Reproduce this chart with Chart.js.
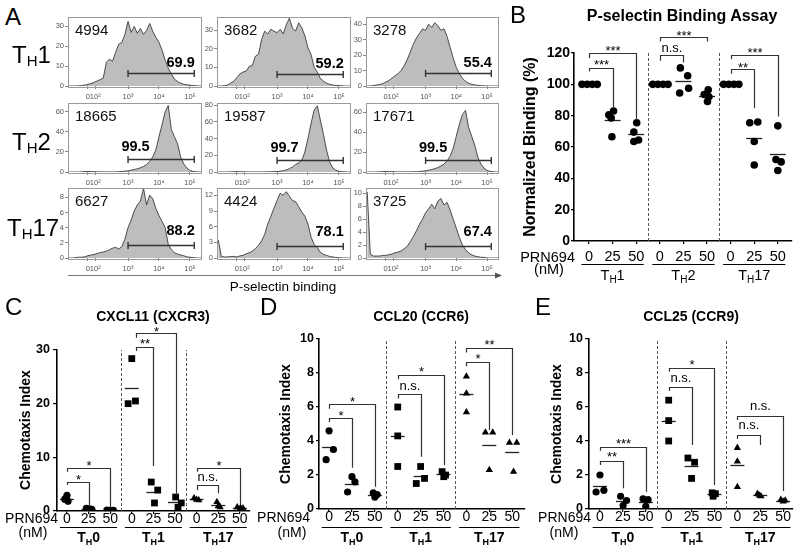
<!DOCTYPE html>
<html><head><meta charset="utf-8">
<script src="https://cdn.jsdelivr.net/npm/chart.js@4.4.1/dist/chart.umd.min.js"></script>
<style>
html,body{margin:0;padding:0;background:#fff;}
body{width:800px;height:556px;position:relative;overflow:hidden;font-family:'Liberation Sans',Arial,Helvetica,sans-serif;color:#000;}
canvas{position:absolute;}
.t{position:absolute;white-space:nowrap;}
</style></head><body>
<svg style="position:absolute;left:0;top:0" width="800" height="556"><line x1="68" y1="275.5" x2="496" y2="275.5" stroke="#777" stroke-width="1"/><polygon points="502,275.5 495,272.5 495,278.5" fill="#555"/></svg>
<script>
// ================= DATA =================
// Panel A histograms (x in log-display units, y = counts)
const histBins = [1.1,1.2,1.3,1.4,1.5,1.6,1.7,1.8,1.9,2.0, 2.1,2.2,2.3,2.4,2.5,2.6,2.7,2.8,2.9,3.0, 3.1,3.2,3.3,3.4,3.5,3.6,3.7,3.8,3.9,4.0, 4.1,4.2,4.3,4.4,4.5,4.6,4.7,4.8,4.9,5.0, 5.1,5.2,5.3,5.4];
const histTh1_a = [0,0,0,0.1,0.2,0.5,0.8,1.2,1.8,2.5, 3.2,4,12,13.5,12.5,17,21,22,26,32.5, 27,30,26.5,29,26,28,31.5,27.5,24.5,22, 18,13,9,6,3.5,2.2,1.4,0.9,0.6,0.4, 0.2,0.1,0,0];
const histTh1_b = [0,0,0.2,0.5,1.5,2.5,4.5,6.5,7.5,8, 10.5,11,16,17,25,29.5,28,30.5,29.5,28.7, 30.5,28,33,36.5,31,29.6,34,31.4,27,20.5, 17,10,7.5,4,2.6,1.5,0.9,0.5,0.3,0.2, 0.1,0,0,0];
const histTh1_c = [0,0,0.3,0.6,1,1.5,2.5,3.5,5,6.5, 8,10,13,17,22,27,31,34,37,36, 40,38,41,39,36,37,32,25,18,12, 8,5,3,1.8,1.1,0.7,0.4,0.2,0.1,0, 0,0,0,0];
const histTh2_a = [0,0,0,0,0.2,0.4,0.6,0.4,0.3,0.2, 0.1,0.1,0.1,0.1,0.1,0.1,0.3,0.5,0.8,1.2, 1.8,2.5,3.2,4.2,5.5,7.5,10.5,15,22,35, 47,60,66,42,35,28,15,8,4,1.5, 0.6,0.2,0,0];
const histTh2_b = [0,0,0,0,0.2,0.3,0.5,0.3,0.2,0.1, 0.1,0.1,0.1,0.1,0.1,0.1,0.2,0.3,0.4,0.5, 1,1.5,2.5,4,6,9,11,14,24,40, 58,74,79,62,45,26,12,5,2,0.8, 0.3,0.1,0,0];
const histTh2_c = [0,0,0,0,0.2,0.4,0.5,0.4,0.3,0.2, 0.1,0.1,0.1,0.1,0.1,0.2,0.3,0.5,0.8,1.2, 1.8,2.5,3.3,4.5,6,8,11,16,24,36, 48,58,62,45,36,27,15,8,4,1.6, 0.6,0.2,0,0];
const histTh17_a = [0,0,0.05,0.1,0.1,0.15,0.3,0.4,0.45,0.6, 0.7,0.8,0.9,1.1,1.3,1.4,1.2,1.5,2.5,4, 5,6.2,7,7.5,9.2,7,8.3,7.8,6.5,5.6, 4.8,4,1.8,1.1,0.7,0.5,0.4,0.3,0.15,0.1, 0.05,0,0,0];
const histTh17_b = [3.5,0.3,0.2,0.2,0.3,0.3,0.2,0.4,0.5,0.8, 1.0,1.3,1.8,2.4,3.3,4.5,6.5,8,9.5,11, 12.4,12,12.7,11.8,11,10.8,9.8,8.8,8,6.5, 4,2.6,2,1.1,0.7,0.5,0.3,0.2,0.1,0.05, 0,0,0,0];
const histTh17_c = [10.2,0.6,0.3,0.3,0.3,0.4,0.4,0.5,0.6,0.8, 0.9,1.1,1.4,1.8,2.5,3.3,4.2,5.2,6,7, 7.6,8.3,7.6,8.8,9.2,8.2,8.6,7.4,6,4.6, 3.2,2,1.3,0.8,0.5,0.3,0.2,0.1,0.1,0, 0,0,0,0];
const eventsTh1 = ['4994','3682','3278'];
const eventsTh2 = ['18665','19587','17671'];
const eventsTh17 = ['6627','4424','3725'];
const gatePctTh1 = ['69.9','59.2','55.4'];
const gatePctTh2 = ['99.5','99.7','99.5'];
const gatePctTh17 = ['88.2','78.1','67.4'];
const gateLevelTh1 = [6.4, 6.7, 8.2];
const gateLevelTh2 = [12.6, 14, 12];
const gateLevelTh17 = [1.7, 2.3, 1.9];
const gateRange = [3.0, 5.14];
const histTickValues = [1.70, 1.94, 3, 4, 5];
const histTickLabels = ['0', '10²', '10³', '10⁴', '10⁵'];

// Shared dose axis
const doseTickValues = [0,1,2,3,4,5,6,7,8];
const doseLabels = ['0','25','50'];

// Panel B: normalized binding (%), [dose0, dose25, dose50]
const bTh1 = [[100,100,100,100],[83,80.5,78.5,66.5],[75.5,69.5,64.5,63.5]];
const bTh2 = [[100,100,100,100],[110.5,105.5,94.5,97.5],[96.5,93.5,92,89]];
const bTh17 = [[100,100,100,100],[75.5,76,63.5,48.5],[73.5,52,50.5,45]];
const bSubsets = ['1','2','17'];
// [from, to, top, leftEnd, rightEnd, label, labelY]
const bBrackets = [[0,1,110.7,108.2,84.8,'***',114.6],[0,2,119.9,116.7,77.3,'***',123.5],[3,4,118.8,115,114,'n.s.',123],[3,5,130,127.4,127.4,'***',133.3],[6,7,109.7,106.7,84.8,'**',113],[6,8,118.8,116,79.4,'***',122]];

// Panel C: CXCL11 chemotaxis index
const cTh0 = [[2.9,2.2,1.8],[0.5,0.4,0.3],[0.15,0.1,0.1]];
const cTh1 = [[28.4,20.0,20.5],[5.4,3.9,1.5],[2.6,1.5,0.7]];
const cTh17 = [[2.4,2.0,2.1],[1.7,0.7,0.9],[0.7,0.6,0.5]];
const cBrackets = [[0,1,5.45,4.85,1.1,'*',6.4],[0,2,7.95,7.3,0.7,'*',9.0],[3.2,4,30.6,29.8,8.4,'**',31.7],[3.2,5.05,33.1,32.3,3.0,'*',34.0],[6,7,4.85,3.9,3.3,'n.s.',6.2],[6,8,7.95,7.3,1.3,'*',9.1]];

// Panel D: CCL20
const dTh0 = [[4.6,3.5,2.9],[1.9,1.6,1.0],[0.95,0.85,0.7]];
const dTh1 = [[6.0,4.3,2.5],[2.5,1.8,1.5],[2.2,2.0,1.9]];
const dTh17 = [[7.8,6.8,5.7],[4.5,4.5,2.3],[3.9,3.9,2.2]];
const dBrackets = [[0,1,5.37,5.1,2.43,'*',5.7],[0,2,6.16,5.9,1.31,'*',6.5],[3,4,6.75,6.5,3.08,'n.s.',7.2],[3,5,7.9,7.63,2.59,'*',8.28],[6,7,8.67,8.4,4.65,'*',9.06],[6,8,9.45,9.2,4.35,'**',9.84]];

// Panel E: CCL25
const eTh0 = [[2.0,1.0,1.1],[0.75,0.5,0.2],[0.6,0.55,0.15]];
const eTh1 = [[6.4,5.2,4.0],[3.0,2.75,1.8],[0.95,0.9,0.75]];
const eTh17 = [[3.6,2.8,1.3],[0.9,0.75,0.8],[0.55,0.5,0.45]];
const eBrackets = [[0,1,2.82,2.59,1.22,'**',3.24],[0,2,3.67,3.43,1.02,'***',4.02],[3,4,7.2,6.94,3.76,'n.s.',7.69],[3,5,8.31,8.08,1.41,'*',8.67],[6,7,4.35,4.12,3.76,'n.s.',4.9],[6,8,5.49,5.24,1.06,'n.s.',6.02]];
const cdeSubsets = ['0','1','17'];

// ================= LAYOUT =================
const FONT = "'Liberation Sans', Arial, Helvetica, sans-serif";
const jitB = [
  [[-0.3,-0.08,0.14,0.35],[0.04,-0.16,-0.06,-0.03],[0.02,-0.1,0.1,-0.1]],
  [[-0.3,-0.08,0.14,0.35],[-0.13,0.18,-0.16,0.22],[0.05,-0.12,0.08,0.02]],
  [[-0.3,-0.08,0.14,0.35],[-0.19,0.15,0,0],[0,-0.08,0.14,0]]];
const jitC = [
  [[0,-0.1,0.05],[-0.1,0.05,0.15],[-0.15,0,0.15]],
  [[0,-0.17,0.17],[-0.1,0.2,0.05],[0.03,0.29,0.14]],
  [[-0.12,0.1,0],[-0.06,0.09,0],[-0.12,0.03,0.15]]];
const jitD = [
  [[0,0.19,-0.13],[0,0.13,-0.19],[-0.07,0.1,0]],
  [[0,0,0],[0,0.17,-0.19],[-0.06,0.09,0.01]],
  [[0,0,0],[-0.17,0.15,0],[-0.12,0.2,0.06]]];
const jitE = [
  [[0,-0.17,0.17],[-0.1,0.16,0.01],[-0.12,0.1,0]],
  [[0,0,0],[-0.16,0.13,0],[-0.1,0.04,-0.06]],
  [[0,0,0],[-0.12,0.03,-0.04],[-0.1,0.09,0]]];

function makeCanvas(left, top, w, h) {
  const c = document.createElement('canvas');
  c.width = w; c.height = h;
  c.style.left = left + 'px'; c.style.top = top + 'px';
  c.style.width = w + 'px'; c.style.height = h + 'px';
  document.body.appendChild(c);
  return c;
}
function addText(html, x, baseline, size, opt) {
  opt = opt || {};
  const d = document.createElement('div');
  d.className = 't'; d.innerHTML = html;
  d.style.fontSize = size + 'px'; d.style.lineHeight = size + 'px';
  if (opt.bold) d.style.fontWeight = 'bold';
  if (opt.rotate) {
    d.style.left = x + 'px'; d.style.top = baseline + 'px';
    d.style.transform = 'translate(-50%,-50%) rotate(-90deg)';
  } else {
    d.style.top = (baseline - 0.8465 * size) + 'px';
    if (opt.align === 'center') { d.style.left = x + 'px'; d.style.transform = 'translateX(-50%)'; }
    else if (opt.align === 'right') { d.style.right = (800 - x) + 'px'; }
    else d.style.left = x + 'px';
  }
  document.body.appendChild(d);
}
function drawSubLabel(ctx, cx, baseline, sub, tail, size, bold) {
  const b = bold ? 'bold ' : '';
  const f1 = b + size + 'px ' + FONT, f2 = b + Math.round(size * 0.66) + 'px ' + FONT;
  ctx.font = f1; const wT = ctx.measureText('T').width, wTail = ctx.measureText(tail).width;
  ctx.font = f2; const wS = ctx.measureText(sub).width;
  let x = cx - (wT + wS + wTail) / 2;
  ctx.textAlign = 'left'; ctx.textBaseline = 'alphabetic'; ctx.fillStyle = '#000';
  ctx.font = f1; ctx.fillText('T', x, baseline); x += wT;
  ctx.font = f2; ctx.fillText(sub, x, baseline + size * 0.2); x += wS;
  ctx.font = f1; ctx.fillText(tail, x, baseline);
}

// ---------- Panel A ----------
const HL = { colLeft: [68, 217, 366], colRight: [202, 351, 499], rowTop: [15, 101, 186], rowBottom: [86, 172, 258], xMin: 1.06, xMax: 5.39 };
const histYMax = [[35, 37.4, 45], [69, 83, 70], [9.3, 13.5, 10.9]];
const histYStep = [[10, 10, 10], [20, 20, 20], [2, 3, 2]];
const gateLabelLift = [6.6, 8.3, 10.3];

function histogram(row, col, values, events, pct, level) {
  const L = HL.colLeft[col], R = HL.colRight[col], T = HL.rowTop[row], B = HL.rowBottom[row];
  const axW = 26, axH = 18, padT = 4, padR = 8;
  const cv = makeCanvas(L - axW, T - padT, (R - L) + axW + padR, (B - T) + padT + axH);
  new Chart(cv, {
    type: 'line',
    data: { datasets: [{ data: histBins.map((x, i) => ({ x: x, y: values[i] })), fill: 'origin', backgroundColor: '#bdbdbd', borderColor: '#3a3a3a', borderWidth: 0.9, pointRadius: 0, tension: 0 }] },
    options: {
      responsive: false, animation: false, devicePixelRatio: 1, events: [],
      layout: { padding: { top: padT, right: padR, left: 0, bottom: 0 } },
      plugins: { legend: { display: false }, tooltip: { enabled: false } },
      scales: {
        x: {
          type: 'linear', min: HL.xMin, max: HL.xMax,
          afterFit(s) { s.height = axH; },
          afterBuildTicks(ax) { ax.ticks = histTickValues.map(v => ({ value: v })); },
          ticks: { autoSkip: false, maxRotation: 0, minRotation: 0, padding: 4, color: '#555', font: { family: FONT, size: 7.5, lineHeight: 1 }, callback: (v, i) => histTickLabels[i] },
          grid: { drawOnChartArea: false, drawTicks: true, tickLength: 3, color: '#888' }, border: { display: false }
        },
        y: {
          min: 0, max: histYMax[row][col],
          afterFit(s) { s.width = axW; },
          ticks: { stepSize: histYStep[row][col], includeBounds: false, padding: 1, color: '#555', font: { family: FONT, size: 7.5 } },
          grid: { drawOnChartArea: false, drawTicks: true, tickLength: 3, color: '#888' }, border: { display: false }
        }
      }
    },
    plugins: [{
      id: 'histDeco',
      afterDraw(chart) {
        const { ctx, chartArea: a, scales: { x, y } } = chart;
        ctx.save();
        ctx.strokeStyle = '#9a9a9a'; ctx.lineWidth = 1;
        ctx.strokeRect(Math.round(a.left) + 0.5, Math.round(a.top) + 0.5, Math.round(a.right - a.left) - 1, Math.round(a.bottom - a.top));
        // gate
        const gx0 = x.getPixelForValue(gateRange[0]), gx1 = x.getPixelForValue(gateRange[1]), gy = Math.round(y.getPixelForValue(level)) + 0.5;
        ctx.strokeStyle = '#333'; ctx.lineWidth = 1.4;
        ctx.beginPath(); ctx.moveTo(gx0, gy); ctx.lineTo(gx1, gy);
        ctx.moveTo(gx0, gy - 3.5); ctx.lineTo(gx0, gy + 3.5);
        ctx.moveTo(gx1, gy - 3.5); ctx.lineTo(gx1, gy + 3.5); ctx.stroke();
        ctx.fillStyle = '#000'; ctx.textBaseline = 'alphabetic';
        ctx.font = 'bold 14.5px ' + FONT;
        if (row === 1) { ctx.textAlign = 'left'; ctx.fillText(pct, gx0 - 6.6, gy - gateLabelLift[row]); }
        else { ctx.textAlign = 'right'; ctx.fillText(pct, gx1 + 0.5, gy - gateLabelLift[row]); }
        ctx.font = '15px ' + FONT; ctx.textAlign = 'left'; ctx.fillStyle = '#111';
        ctx.fillText(events, a.left + 7, a.top + 18);
        ctx.restore();
      }
    }]
  });
}
const histRows = [[histTh1_a, histTh1_b, histTh1_c], [histTh2_a, histTh2_b, histTh2_c], [histTh17_a, histTh17_b, histTh17_c]];
const evRows = [eventsTh1, eventsTh2, eventsTh17];
const pctRows = [gatePctTh1, gatePctTh2, gatePctTh17];
const lvlRows = [gateLevelTh1, gateLevelTh2, gateLevelTh17];
for (let r = 0; r < 3; r++) for (let c = 0; c < 3; c++) histogram(r, c, histRows[r][c], evRows[r][c], pctRows[r][c], lvlRows[r][c]);

// ---------- Dot plots ----------
function dotPlot(o) {
  const cv = makeCanvas(o.left, o.top, o.width, o.height);
  const datasets = o.groups.map((grp, g) => ({
    data: grp.flatMap((vals, d) => vals.map((v, i) => ({ x: g * 3 + d + o.jitter[g][d][i], y: v }))),
    pointStyle: o.styles[g], pointRadius: o.radii[g], pointHoverRadius: o.radii[g],
    pointBackgroundColor: '#000', pointBorderColor: '#000', pointBorderWidth: 0
  }));
  new Chart(cv, {
    type: 'scatter',
    data: { datasets: datasets },
    options: {
      responsive: false, animation: false, devicePixelRatio: 1, events: [],
      layout: { padding: { top: o.padT, right: o.padR, left: 0, bottom: 0 } },
      plugins: { legend: { display: false }, tooltip: { enabled: false } },
      scales: {
        x: {
          type: 'linear', min: o.xMin, max: o.xMax,
          afterFit(s) { s.height = o.axH; },
          afterBuildTicks(ax) { ax.ticks = doseTickValues.map(v => ({ value: v })); },
          ticks: { autoSkip: false, maxRotation: 0, minRotation: 0, padding: o.xPad, color: '#000', font: { family: FONT, size: o.xFont, lineHeight: 1 }, callback: (v, i) => doseLabels[i % 3] },
          grid: { drawOnChartArea: false, drawTicks: true, tickLength: 3, color: '#000', lineWidth: 1.2 },
          border: { display: true, color: '#000', width: 1.6 }
        },
        y: {
          min: 0, max: o.yMax,
          afterFit(s) { s.width = o.axW; },
          ticks: { stepSize: o.yStep, padding: o.yPad, color: '#000', font: { family: FONT, size: o.yFont, weight: 'bold' } },
          grid: { drawOnChartArea: false, drawTicks: true, tickLength: o.yTick, color: '#000', lineWidth: 1.2 },
          border: { display: true, color: '#000', width: 1.6 }
        }
      }
    },
    plugins: [{
      id: 'dotDeco',
      beforeDatasetsDraw(chart) {
        const { ctx, scales: { x, y } } = chart;
        ctx.save();
        ctx.strokeStyle = '#555'; ctx.lineWidth = 1; ctx.setLineDash([3, 2]);
        [2.5, 5.5].forEach(v => {
          const px = Math.round(x.getPixelForValue(v)) + 0.5;
          ctx.beginPath(); ctx.moveTo(px, y.getPixelForValue(0)); ctx.lineTo(px, y.getPixelForValue(o.yMax)); ctx.stroke();
        });
        ctx.setLineDash([]);
        ctx.strokeStyle = '#222'; ctx.lineWidth = 1.3;
        o.groups.forEach((grp, g) => grp.forEach((vals, d) => {
          if (!vals.length) return;
          const m = vals.reduce((a, b) => a + b, 0) / vals.length;
          const cx = x.getPixelForValue(g * 3 + d), cy = Math.round(y.getPixelForValue(m)) + 0.5;
          ctx.beginPath(); ctx.moveTo(cx - o.meanHalf, cy); ctx.lineTo(cx + o.meanHalf, cy); ctx.stroke();
        }));
        ctx.restore();
      },
      afterDraw(chart) {
        const { ctx, scales: { x, y } } = chart;
        ctx.save();
        ctx.strokeStyle = '#333'; ctx.lineWidth = 1.2; ctx.fillStyle = '#000';
        ctx.textAlign = 'center'; ctx.textBaseline = 'alphabetic';
        o.brackets.forEach(br => {
          const [x0, x1, top, l, r, lab, ly] = br;
          const X0 = Math.round(x.getPixelForValue(x0)) + 0.5, X1 = Math.round(x.getPixelForValue(x1)) + 0.5, T = Math.round(y.getPixelForValue(top)) + 0.5;
          ctx.beginPath(); ctx.moveTo(X0, y.getPixelForValue(l)); ctx.lineTo(X0, T); ctx.lineTo(X1, T); ctx.lineTo(X1, y.getPixelForValue(r)); ctx.stroke();
          const cx = (X0 + X1) / 2, cy = y.getPixelForValue(ly);
          ctx.font = '13px ' + FONT;
          if (lab === 'n.s.') ctx.fillText(lab, cx, cy + 13 * 0.26);
          else ctx.fillText(lab, cx, cy + 13 * 0.58);
        });
        ctx.strokeStyle = '#000'; ctx.lineWidth = 1.2;
        [1, 4, 7].forEach((c, g) => {
          const a = x.getPixelForValue(c - 1.32), b = x.getPixelForValue(c + 1.32), uy = Math.round(o.underlineY - o.top) + 0.5;
          ctx.beginPath(); ctx.moveTo(a, uy); ctx.lineTo(b, uy); ctx.stroke();
          drawSubLabel(ctx, x.getPixelForValue(c), o.groupBaseline - o.top, 'H', o.subsets[g], o.groupSize, o.groupBold);
        });
        ctx.restore();
      }
    }]
  });
}

dotPlot({ left: 540, top: 0, width: 260, height: 290, axW: 34, axH: 49, padT: 53, padR: 8,
  xMin: -0.636, xMax: 8.6, yMax: 120, yStep: 20, yFont: 14, yTick: 3, yPad: 1, xFont: 14.5, xPad: 5.3,
  groups: [bTh1, bTh2, bTh17], jitter: jitB, styles: ['circle', 'circle', 'circle'], radii: [3.8, 3.8, 3.8],
  meanHalf: 8, brackets: bBrackets, underlineY: 264.3, groupBaseline: 280, groupSize: 14.5, groupBold: false, subsets: bSubsets });
dotPlot({ left: 28, top: 290, width: 232, height: 266, axW: 29, axH: 45, padT: 60, padR: 10,
  xMin: -0.46, xMax: 8.47, yMax: 30, yStep: 10, yFont: 12.5, yTick: 4, yPad: 3, xFont: 14, xPad: -1.9,
  groups: [cTh0, cTh1, cTh17], jitter: jitC, styles: ['circle', 'rect', 'triangle'], radii: [3.6, 4.8, 4.2],
  meanHalf: 7, brackets: cBrackets, underlineY: 526.7, groupBaseline: 542, groupSize: 14, groupBold: true, subsets: cdeSubsets });
dotPlot({ left: 292, top: 290, width: 240, height: 266, axW: 27, axH: 47, padT: 49, padR: 7,
  xMin: -0.44, xMax: 8.56, yMax: 10, yStep: 2, yFont: 12.5, yTick: 3, yPad: 2, xFont: 14, xPad: -1.9,
  groups: [dTh0, dTh1, dTh17], jitter: jitD, styles: ['circle', 'rect', 'triangle'], radii: [3.6, 4.8, 4.2],
  meanHalf: 7, brackets: dBrackets, underlineY: 526.7, groupBaseline: 542, groupSize: 14, groupBold: true, subsets: cdeSubsets });
dotPlot({ left: 560, top: 290, width: 240, height: 266, axW: 29, axH: 47, padT: 49, padR: 7,
  xMin: -0.48, xMax: 8.43, yMax: 10, yStep: 2, yFont: 12.5, yTick: 4, yPad: 2, xFont: 14, xPad: -1.9,
  groups: [eTh0, eTh1, eTh17], jitter: jitE, styles: ['circle', 'rect', 'triangle'], radii: [3.6, 4.8, 4.2],
  meanHalf: 7, brackets: eBrackets, underlineY: 526.7, groupBaseline: 542, groupSize: 14, groupBold: true, subsets: cdeSubsets });

// ---------- Static text ----------
addText('A', 5, 25, 24); addText('B', 510, 23, 24); addText('C', 5, 315, 24); addText('D', 260, 315, 24); addText('E', 535, 315, 24);
const subH = '<span style="font-size:15px;position:relative;top:3px">H</span>';
addText('T' + subH + '1', 12, 63, 24);
addText('T' + subH + '2', 12, 150, 24);
addText('T' + subH + '17', 7, 236, 24);
addText('P-selectin binding', 283, 291, 13.5, { align: 'center' });
addText('P-selectin Binding Assay', 682, 22, 16, { bold: true, align: 'center' });
addText('CXCL11 (CXCR3)', 153, 321, 14, { bold: true, align: 'center' });
addText('CCL20 (CCR6)', 421, 321, 14, { bold: true, align: 'center' });
addText('CCL25 (CCR9)', 691, 321, 14, { bold: true, align: 'center' });
addText('Normalized Binding (%)', 530, 147, 16, { bold: true, rotate: true });
addText('Chemotaxis Index', 25, 430, 14, { bold: true, rotate: true });
addText('Chemotaxis Index', 285, 424, 14, { bold: true, rotate: true });
addText('Chemotaxis Index', 556, 424, 14, { bold: true, rotate: true });
addText('PRN694', 575, 262, 14.5, { align: 'right' });
addText('(nM)', 549, 274, 14.5, { align: 'center' });
addText('PRN694', 58, 523, 14, { align: 'right' });
addText('(nM)', 33, 537, 14, { align: 'center' });
addText('PRN694', 310, 522, 14, { align: 'right' });
addText('(nM)', 292, 537, 14, { align: 'center' });
addText('PRN694', 591, 522, 14, { align: 'right' });
addText('(nM)', 564, 537, 14, { align: 'center' });
</script>
</body></html>
